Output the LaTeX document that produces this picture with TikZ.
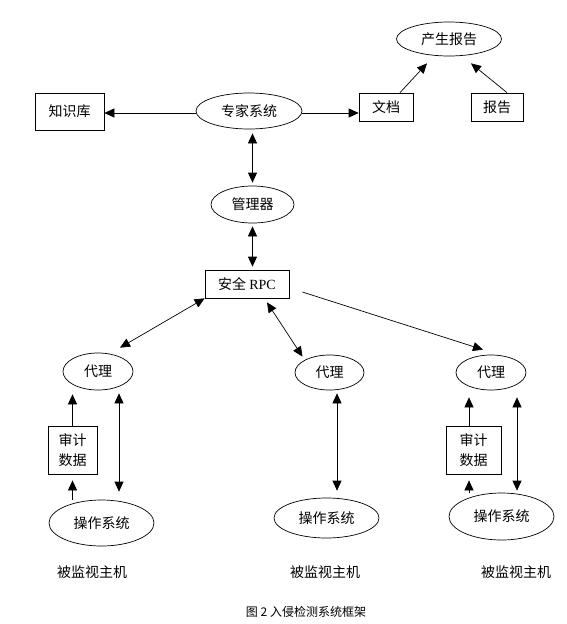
\documentclass[tikz,border=0pt]{standalone}
\usepackage{fontspec}
\setmainfont{Liberation Serif}
\newfontfamily\cjk{Noto Sans CJK SC}
\usetikzlibrary{shapes.geometric, arrows.meta, positioning}

\begin{document}
\begin{tikzpicture}[x=1pt, y=-1pt, line width=0.7pt,
    >={Triangle[length=10pt,width=9pt]},
    every node/.style={font=\cjk\fontsize{14}{20}\selectfont, inner sep=0pt},
    rbox/.style={draw, rectangle},
    oval/.style={draw, ellipse}]
   \useasboundingbox (0,0) rectangle (567,624);

   % 专家系统一层
   \node[oval, minimum width=105pt, minimum height=34pt] (rep) at (449,39) {产生报告};
   \node[rbox, minimum width=69pt, minimum height=37pt] (kb) at (69.5,111.5) {知识库};
   \node[oval, minimum width=106pt, minimum height=36pt] (es) at (249,111) {专家系统};
   \node[rbox, minimum width=54pt, minimum height=28pt] (doc) at (386,107) {文档};
   \node[rbox, minimum width=52pt, minimum height=28pt] (rpt) at (497,107) {报告};

   % 管理器与安全 RPC
   \node[oval, minimum width=83pt, minimum height=37pt] (mgr) at (252.5,204.5) {管理器};
   \node[rbox, minimum width=84pt, minimum height=28pt] (rpc) at (247,284) {安全 {\rmfamily RPC}};

   % 三台被监视主机
   \node[oval, minimum width=70pt, minimum height=37pt] (ag1) at (98,371.5) {代理};
   \node[oval, minimum width=69pt, minimum height=35pt] (ag2) at (329.5,372.5) {代理};
   \node[oval, minimum width=70pt, minimum height=35pt] (ag3) at (491,372.5) {代理};
   \node[rbox, minimum width=49pt, minimum height=48pt, align=center] (au1) at (72.5,450) {审计\\数据};
   \node[rbox, minimum width=55pt, minimum height=48pt, align=left] (au3) at (473.5,450) {审计\\数据};
   \node[oval, minimum width=105pt, minimum height=46pt] (os1) at (101.5,523) {操作系统};
   \node[oval, minimum width=105pt, minimum height=40pt] (os2) at (326.5,518) {操作系统};
   \node[oval, minimum width=105pt, minimum height=47pt] (os3) at (501.5,516.5) {操作系统};
   \node (h1) at (92,572) {被监视主机};
   \node (h2) at (325,572) {被监视主机};
   \node (h3) at (516,572) {被监视主机};
   \node[font=\cjk\fontsize{12}{14}\selectfont] (cap) at (306,612) {图 2 入侵检测系统框架};

   % 上层连线
   \draw[->] (es.west |- 0,113) -- (kb.east |- 0,113);
   \draw[->] (es.east |- 0,113) -- (doc.west |- 0,113);
   \draw[->] ([xshift=14pt]doc.north) -- ([xshift=-22pt,yshift=-7pt]rep.south);
   \draw[->] ([xshift=10pt]rpt.north) -- ([xshift=22pt,yshift=-7pt]rep.south);
   \draw[<->, shorten <=4pt, shorten >=3pt] (es.south -| mgr.north) -- (mgr.north);
   \draw[<->, shorten <=3pt, shorten >=3pt] (mgr.south) -- (mgr.south |- rpc.north);

   % 安全 RPC 到各代理
   \draw[<->] (rpc.south west) -- ([xshift=22pt,yshift=5pt]ag1.north);
   \draw[<->] ([xshift=20pt,yshift=-4pt]rpc.south) -- ([xshift=-27pt,yshift=-2pt]ag2.north);
   \draw[->] ([xshift=13pt,yshift=-8pt]rpc.east) -- ([xshift=-8pt,yshift=5pt]ag3.north);

   % 主机内部
   \draw[->, shorten >=4pt] (au1.north) -- (au1.north |- ag1.south);
   \draw[->, shorten >=6pt] (au1.south |- os1.north) -- (au1.south);
   \draw[<->, shorten <=3pt, shorten >=8pt] ([xshift=21pt]ag1.south) -- ([xshift=17.5pt]os1.north);
   \draw[<->, shorten <=3pt, shorten >=7pt] ([xshift=7.5pt]ag2.south) -- ([xshift=10.5pt]os2.north);
   \draw[->, shorten >=7pt] ([xshift=-4.5pt]au3.north) -- ([xshift=-4.5pt]au3.north |- ag3.south);
   \draw[->, shorten >=6pt] ([xshift=-4.5pt]au3.south |- os3.north) -- ([xshift=-4.5pt]au3.south);
   \draw[<->, shorten <=7pt, shorten >=2pt] ([xshift=26pt]ag3.south) -- ([xshift=15.5pt]os3.north);
\end{tikzpicture}
\end{document}
